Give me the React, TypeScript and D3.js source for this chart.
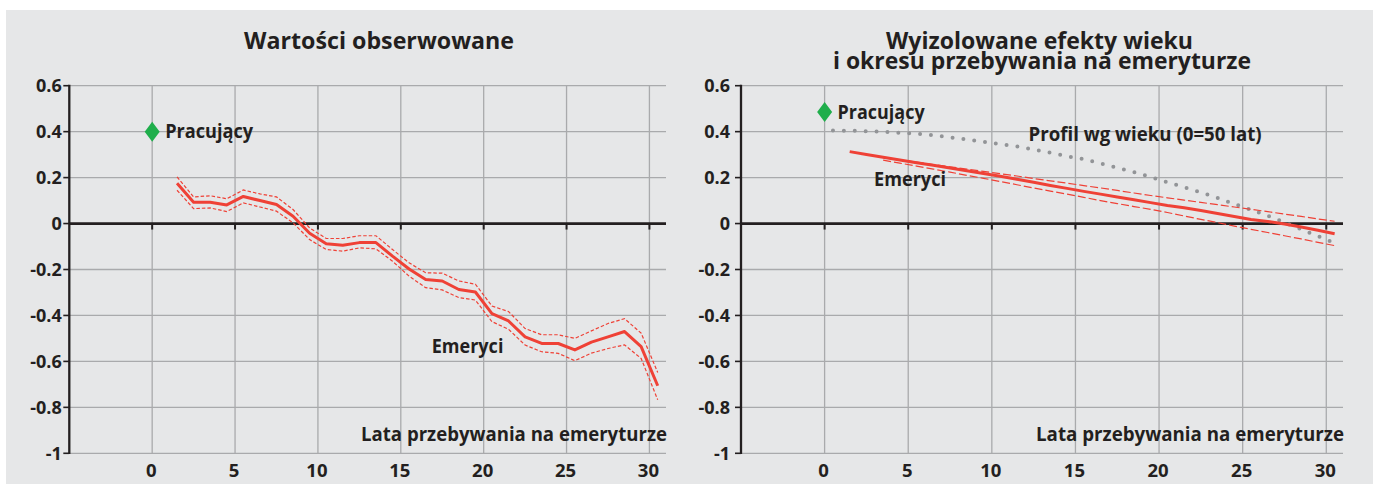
import React from 'react';
import * as d3 from 'd3';

// ---------- data ----------
const xTicks = [0, 5, 10, 15, 20, 25, 30];
const xTickLabels = ['0', '5', '10', '15', '20', '25', '30'];
const yTicks = [0.6, 0.4, 0.2, 0, -0.2, -0.4, -0.6, -0.8, -1];
const yTickLabels = ['0.6', '0.4', '0.2', '0', '-0.2', '-0.4', '-0.6', '-0.8', '-1'];

const yearsRetired = [1.5, 2.5, 3.5, 4.5, 5.5, 6.5, 7.5, 8.5, 9.5, 10.5, 11.5, 12.5, 13.5, 14.5, 15.5,
  16.5, 17.5, 18.5, 19.5, 20.5, 21.5, 22.5, 23.5, 24.5, 25.5, 26.5, 27.5, 28.5, 29.5, 30.5];

// Left panel: observed values (retirees) with confidence band
const observedMean = [0.175, 0.093, 0.093, 0.081, 0.118, 0.100, 0.083, 0.032, -0.042, -0.088, -0.094, -0.083,
  -0.083, -0.142, -0.198, -0.244, -0.250, -0.287, -0.298, -0.392, -0.424, -0.493, -0.522, -0.522, -0.550,
  -0.516, -0.493, -0.470, -0.536, -0.706];
const observedUpper = [0.203, 0.116, 0.121, 0.108, 0.146, 0.129, 0.116, 0.061, -0.019, -0.065, -0.065, -0.053,
  -0.053, -0.113, -0.171, -0.214, -0.216, -0.250, -0.264, -0.359, -0.383, -0.457, -0.484, -0.484, -0.500,
  -0.467, -0.435, -0.414, -0.477, -0.648];
const observedLower = [0.145, 0.065, 0.068, 0.052, 0.090, 0.072, 0.054, 0.003, -0.070, -0.113, -0.120, -0.106,
  -0.110, -0.164, -0.229, -0.279, -0.289, -0.322, -0.333, -0.427, -0.460, -0.529, -0.558, -0.565, -0.597,
  -0.564, -0.544, -0.528, -0.587, -0.767];
const workersObserved = 0.4;

// Right panel: isolated effects
const isolatedMean = [0.313, 0.301, 0.289, 0.277, 0.265, 0.254, 0.242, 0.230, 0.218, 0.206, 0.193, 0.180,
  0.166, 0.153, 0.140, 0.128, 0.116, 0.104, 0.091, 0.079, 0.069, 0.057, 0.044, 0.031, 0.018, 0.009, -0.002,
  -0.015, -0.029, -0.044];
const bandYears = [3.5, 4.5, 5.5, 6.5, 7.5, 8.5, 9.5, 10.5, 11.5, 12.5, 13.5, 14.5, 15.5, 16.5, 17.5, 18.5,
  19.5, 20.5, 21.5, 22.5, 23.5, 24.5, 25.5, 26.5, 27.5, 28.5, 29.5, 30.5];
const isolatedUpper = [0.287, 0.277, 0.267, 0.257, 0.247, 0.237, 0.227, 0.217, 0.207, 0.196, 0.186, 0.176,
  0.165, 0.155, 0.144, 0.133, 0.122, 0.112, 0.102, 0.092, 0.082, 0.072, 0.062, 0.052, 0.041, 0.031, 0.020, 0.010];
const isolatedLower = [0.276, 0.263, 0.250, 0.237, 0.224, 0.210, 0.197, 0.183, 0.169, 0.155, 0.141, 0.128,
  0.114, 0.100, 0.087, 0.074, 0.062, 0.048, 0.033, 0.018, 0.004, -0.011, -0.025, -0.039, -0.053, -0.067,
  -0.082, -0.096];
const ageYears = [0.5, 1.5, 2.5, 3.5, 4.5, 5.5, 6.5, 7.5, 8.5, 9.5, 10.5, 11.5, 12.5, 13.5, 14.5, 15.5, 16.5,
  17.5, 18.5, 19.5, 20.5, 21.5, 22.5, 23.5, 24.5, 25.5, 26.5, 27.5, 28.5, 29.5, 30.5];
const ageProfile = [0.405, 0.404, 0.402, 0.399, 0.395, 0.391, 0.384, 0.375, 0.366, 0.356, 0.345, 0.336, 0.322,
  0.308, 0.293, 0.280, 0.262, 0.243, 0.224, 0.203, 0.180, 0.158, 0.136, 0.112, 0.085, 0.060, 0.034, 0.005,
  -0.025, -0.055, -0.085];
const workersIsolated = 0.485;

const titleLeft = ['Wartości obserwowane'];
const titleRight = ['Wyizolowane efekty wieku', 'i okresu przebywania na emeryturze'];
const xAxisTitle = 'Lata przebywania na emeryturze';

// ---------- styles ----------
const FONT = '"Open Sans", sans-serif';
const TEXT = '#231f20';
const GRID = '#a9aaac';
const RED = '#ef4136';
const GREEN = '#1fae4b';
const DOTS = '#929497';
const BG = '#e6e7e8';

type Series = { xs: number[]; ys: number[] };

type PanelProps = {
  left: number;
  right: number;
  title: string[];
  titleCx: number[];
  titleW: number[];
  mean: Series;
  upper: Series;
  lower: Series;
  dash: string;
  workers: number;
  age?: Series;
  labelGap: number;
  emeryciPos: [number, number, number];
  workersW: number;
  axisTitleW: number;
};

function Panel(p: PanelProps) {
  const x = d3.scaleLinear().domain([-5, 31]).range([p.left, p.right]);
  const y = d3.scaleLinear().domain([-1, 0.6]).range([453.3, 85.7]);
  const line = d3.line<[number, number]>().x(d => x(d[0])).y(d => y(d[1]));
  const path = (s: Series) => line(s.xs.map((v, i) => [v, s.ys[i]] as [number, number])) || '';
  const x0 = x(0);
  const wy = y(p.workers);
  const diamond = `M${x0},${wy - 10}L${x0 + 7.5},${wy}L${x0},${wy + 10}L${x0 - 7.5},${wy}Z`;
  const tStyle = { fontFamily: FONT, fontWeight: 700, fill: TEXT } as React.CSSProperties;
  return (
    <g>
      {/* titles */}
      {p.title.map((t, i) => (
        <text key={t} x={p.titleCx[i]} y={49 + i * 20} textAnchor="middle" fontSize={24}
          textLength={p.titleW[i]} lengthAdjust="spacingAndGlyphs" style={tStyle}>{t}</text>
      ))}
      {/* horizontal grid */}
      {yTicks.map(t => (
        <line key={'h' + t} x1={x(-5)} x2={x(31)} y1={y(t)} y2={y(t)} stroke={GRID} strokeWidth={1.3} />
      ))}
      {/* vertical grid */}
      {xTicks.map(t => (
        <line key={'v' + t} x1={x(t)} x2={x(t)} y1={y(0.6)} y2={y(-1)} stroke={GRID} strokeWidth={1.3} />
      ))}
      {/* y axis */}
      <line x1={x(-5)} x2={x(-5)} y1={y(0.6) - 1} y2={y(-1) + 0.8} stroke={TEXT} strokeWidth={2.3} />
      {yTicks.map((t, i) => (
        <g key={'yt' + t}>
          <line x1={x(-5) - 6} x2={x(-5)} y1={y(t)} y2={y(t)} stroke={TEXT} strokeWidth={1.6} />
          <text x={x(-5) - p.labelGap} y={y(t) + 6.3} textAnchor="end" fontSize={18} style={tStyle}>{yTickLabels[i]}</text>
        </g>
      ))}
      {/* zero line */}
      <line x1={x(-5)} x2={x(31)} y1={y(0)} y2={y(0)} stroke={TEXT} strokeWidth={2.8} />
      {xTicks.map(t => (
        <line key={'xt' + t} x1={x(t)} x2={x(t)} y1={y(0)} y2={y(0) + 6} stroke={TEXT} strokeWidth={2} />
      ))}
      {/* x tick labels */}
      {xTicks.map((t, i) => (
        <text key={'xl' + t} x={x(t) - 1} y={477} textAnchor="middle" fontSize={18.5} style={tStyle}>{xTickLabels[i]}</text>
      ))}
      {/* age profile */}
      {p.age && (
        <path d={path(p.age)} fill="none" stroke={DOTS} strokeWidth={4} strokeLinecap="round"
          strokeDasharray="0 10.9" />
      )}
      {/* bands */}
      <path d={path(p.upper)} fill="none" stroke={RED} strokeWidth={1.2} strokeDasharray={p.dash} />
      <path d={path(p.lower)} fill="none" stroke={RED} strokeWidth={1.2} strokeDasharray={p.dash} />
      <path d={path(p.mean)} fill="none" stroke={RED} strokeWidth={3} strokeLinejoin="round" />
      {/* workers */}
      <path d={diamond} fill={GREEN} />
      <text x={x0 + 13} y={wy + 6.5} fontSize={19} textLength={p.workersW} lengthAdjust="spacingAndGlyphs" style={tStyle}>Pracujący</text>
      <text x={p.emeryciPos[0]} y={p.emeryciPos[1]} fontSize={19} textLength={p.emeryciPos[2]} lengthAdjust="spacingAndGlyphs" style={tStyle}>Emeryci</text>
      <text x={x(31) + 1} y={440.7} textAnchor="end" fontSize={19} textLength={p.axisTitleW} lengthAdjust="spacingAndGlyphs" style={tStyle}>{xAxisTitle}</text>
    </g>
  );
}

export default function App() {
  const tStyle = { fontFamily: FONT, fontWeight: 700, fill: TEXT } as React.CSSProperties;
  const xR = d3.scaleLinear().domain([-5, 31]).range([741, 1343]);
  const yR = d3.scaleLinear().domain([-1, 0.6]).range([453.3, 85.7]);
  return (
    <svg width={1373} height={484} style={{ position: 'absolute', left: 0, top: 0, display: 'block' }}>
      <rect x={0} y={0} width={1373} height={484} fill="#ffffff" />
      <rect x={6} y={10} width={1367} height={474} fill={BG} />
      <Panel left={69.3} right={666} title={titleLeft} titleCx={[379]} titleW={[270]}
        mean={{ xs: yearsRetired, ys: observedMean }}
        upper={{ xs: yearsRetired, ys: observedUpper }}
        lower={{ xs: yearsRetired, ys: observedLower }}
        dash="3.5 2" workers={workersObserved} labelGap={7.5}
        emeryciPos={[431.7, 352.7, 71.7]} workersW={88} axisTitleW={306} />
      <Panel left={741} right={1343} title={titleRight} titleCx={[1039.5, 1042]} titleW={[307, 418]}
        mean={{ xs: yearsRetired, ys: isolatedMean }}
        upper={{ xs: bandYears, ys: isolatedUpper }}
        lower={{ xs: bandYears, ys: isolatedLower }}
        dash="8 3" workers={workersIsolated} labelGap={11}
        age={{ xs: ageYears, ys: ageProfile }}
        emeryciPos={[874, 186, 72]} workersW={87} axisTitleW={308} />
      <text x={xR(12.2)} y={yR(0.36) + 0} fontSize={19} textLength={233} lengthAdjust="spacingAndGlyphs" style={tStyle}>Profil wg wieku (0=50 lat)</text>
    </svg>
  );
}
